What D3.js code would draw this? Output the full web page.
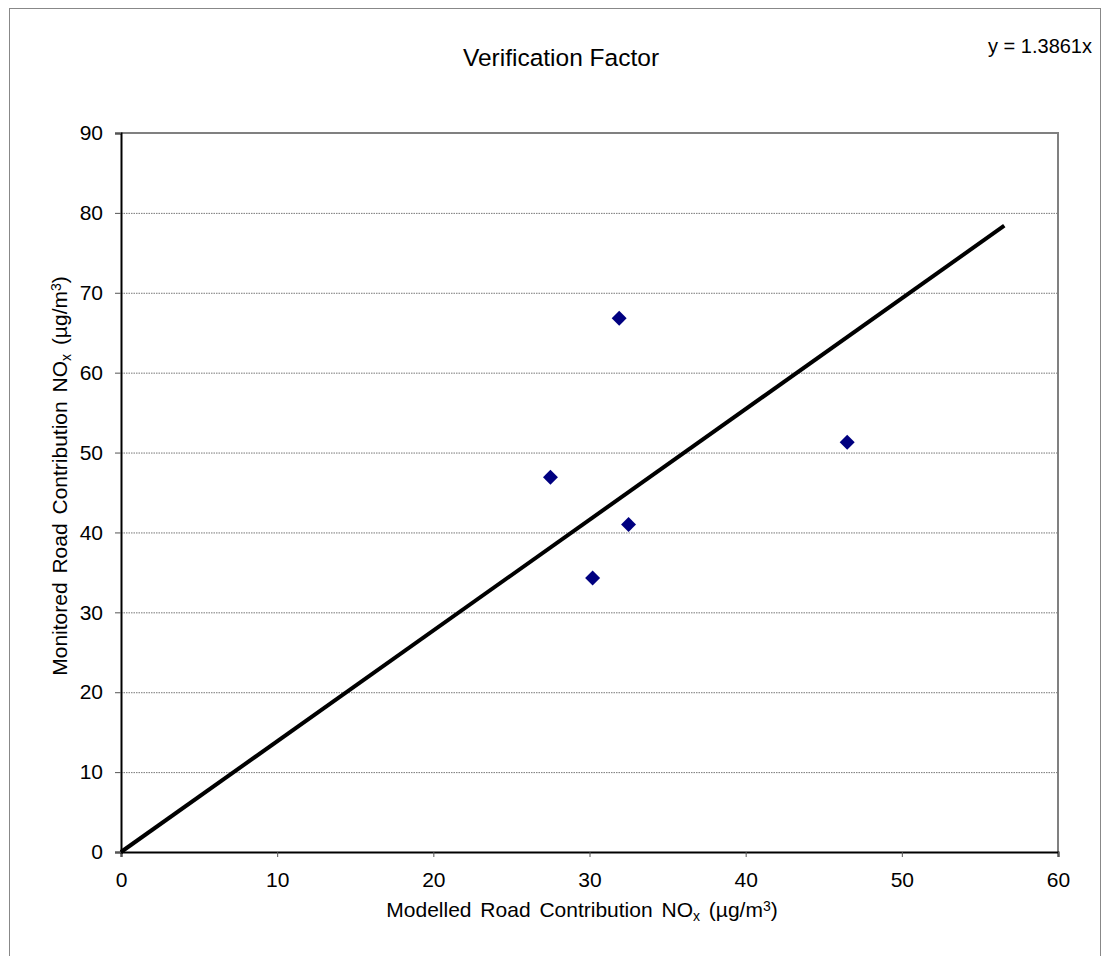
<!DOCTYPE html>
<html lang="en">
<head>
    <meta charset="UTF-8">
    <title>Verification Factor</title>
    <script src="https://d3js.org/d3.v7.min.js"></script>
    <style>
        body { margin: 0; background: #fff; }
        text { font-family: "Liberation Sans", Arial, sans-serif; fill: #000; }
        .grid line { stroke: #777; stroke-width: 1; stroke-dasharray: 1.5 1; }
    </style>
</head>
<body>
    <svg id="chart"></svg>

    <script>
        // measured points (modelled x, monitored y)
        const modelled = [27.5, 31.9, 30.2, 32.5, 46.5];
        const monitored = [46.9, 66.8, 34.3, 41.0, 51.3];
        const slope = 1.3861;
        const fitX = [0, 56.56];
        const xTicks = [0, 10, 20, 30, 40, 50, 60];
        const yTicks = [0, 10, 20, 30, 40, 50, 60, 70, 80, 90];

        const width = 1103, height = 956;
        const plot = { left: 121, right: 1058, top: 133, bottom: 852 };

        const svg = d3.select("#chart").attr("width", width).attr("height", height);

        // outer chart border
        svg.append("rect")
            .attr("x", 9.5).attr("y", 8.5)
            .attr("width", 1091).attr("height", 960)
            .attr("fill", "none").attr("stroke", "#888").attr("stroke-width", 1);

        const x = d3.scaleLinear().domain([0, 60]).range([plot.left, plot.right]);
        const y = d3.scaleLinear().domain([0, 90]).range([plot.bottom, plot.top]);

        // gridlines
        svg.append("g").attr("class", "grid")
            .selectAll("line")
            .data(yTicks.filter(d => d > 0 && d < 90))
            .enter().append("line")
            .attr("x1", plot.left).attr("x2", plot.right)
            .attr("y1", d => y(d) + 0.5).attr("y2", d => y(d) + 0.5);

        // top and right border of plot area
        svg.append("path")
            .attr("d", `M${plot.left},${plot.top} H${plot.right} V${plot.bottom}`)
            .attr("fill", "none").attr("stroke", "#808080").attr("stroke-width", 2);

        const xAxis = svg.append("g")
            .attr("transform", `translate(0, ${plot.bottom})`)
            .call(d3.axisBottom(x).tickValues(xTicks).tickSize(5).tickPadding(10));
        const yAxis = svg.append("g")
            .attr("transform", `translate(${plot.left}, 0)`)
            .call(d3.axisLeft(y).tickValues(yTicks).tickSize(6).tickPadding(12));

        [xAxis, yAxis].forEach(g => {
            g.select(".domain").attr("stroke", "#000").attr("stroke-width", 2);
            g.selectAll(".tick line").attr("stroke", "#555").attr("stroke-width", 1);
            g.selectAll(".tick text").style("font-size", "21px")
                .style("font-family", "'Liberation Sans', Arial, sans-serif");
        });
        xAxis.selectAll(".tick text").attr("dy", "0.95em");

        // fitted line y = slope * x
        svg.append("path")
            .datum(fitX)
            .attr("d", d3.line().x(d => x(d)).y(d => y(d * slope)))
            .attr("fill", "none").attr("stroke", "#000").attr("stroke-width", 4);

        // markers
        svg.append("g").selectAll("path")
            .data(modelled.map((d, i) => [d, monitored[i]]))
            .enter().append("path")
            .attr("d", d3.symbol().type(d3.symbolSquare).size(112))
            .attr("transform", d => `translate(${x(d[0])},${y(d[1])}) rotate(45)`)
            .attr("fill", "#000080");

        // title and equation
        svg.append("text")
            .attr("x", 561).attr("y", 66)
            .attr("text-anchor", "middle")
            .style("font-size", "24.5px")
            .text("Verification Factor");

        svg.append("text")
            .attr("x", 1092).attr("y", 53)
            .attr("text-anchor", "end")
            .style("font-size", "20px")
            .text("y = " + slope + "x");

        // axis titles with sub/superscripts
        function axisTitle(sel) {
            sel.style("font-size", "21px").style("word-spacing", "3px");
            sel.append("tspan").text("Road Contribution NO");
            sel.append("tspan").attr("baseline-shift", "-25%").style("font-size", "14px").text("x");
            sel.append("tspan").text(" (µg/m");
            sel.append("tspan").attr("baseline-shift", "40%").style("font-size", "14px").text("3");
            sel.append("tspan").text(")");
        }

        const xt = svg.append("text")
            .attr("x", 582).attr("y", 917)
            .attr("text-anchor", "middle");
        xt.append("tspan").text("Modelled ");
        axisTitle(xt);

        const yt = svg.append("text")
            .attr("transform", "translate(67, 476) rotate(-90)")
            .attr("text-anchor", "middle");
        yt.append("tspan").text("Monitored ");
        axisTitle(yt);
    </script>
</body>
</html>
